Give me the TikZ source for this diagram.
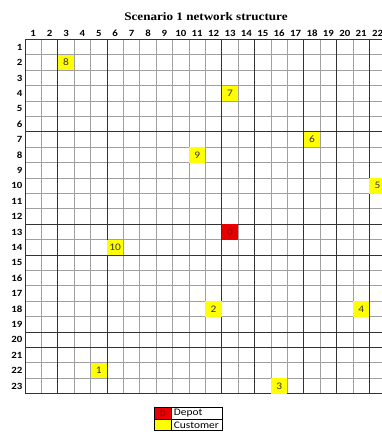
\documentclass[tikz,border=0pt]{standalone}
\usepackage{graphicx}
\usepackage{fontspec}
\setmainfont{Carlito}
\newfontfamily\titlefont{Liberation Serif}
\usepackage{tikz}
\usetikzlibrary{positioning,fit}

\definecolor{cellyellow}{RGB}{255,255,0}
\definecolor{depotred}{RGB}{232,0,0}
\definecolor{gridgray}{RGB}{160,160,160}
\newcommand{\wide}[1]{\scalebox{1.14}[1]{#1}}

\tikzset{
  gridline/.style={gridgray, line width=1pt},
  darkline/.style={black!80, line width=1pt},
  cust/.style={fill=cellyellow, minimum width=16.4pt, minimum height=15.4pt,
    inner sep=0pt, font=\fontsize{10}{11}\selectfont, text=black!80},
  depot/.style={cust, fill=depotred, text=red!55!black},
  colnum/.style={font=\bfseries\fontsize{9.5}{10}\selectfont, inner sep=0pt},
  rownum/.style={colnum, anchor=east},
  key/.style={minimum width=16pt, minimum height=11pt, inner sep=0pt},
  legtext/.style={anchor=west, inner sep=0pt, font=\fontsize{10}{11}\selectfont},
}

\begin{document}
\begin{tikzpicture}[x=1pt,y=-1pt]
\useasboundingbox (0,0) rectangle (382,441);
\clip (0,0) rectangle (382,441);
\fill[white] (0,0) rectangle (382,441);

\node[font=\titlefont\bfseries\fontsize{11.5}{13}\selectfont] (title) at (206,17) {\wide{Scenario 1 network structure}};

\begin{scope}[shift={(25,39.5)}, x=16.4pt, y=-15.4pt]
% grid
\foreach \i in {1,...,22} \draw[gridline] (\i,0) -- (\i,23);
\foreach \j in {1,...,22} \draw[gridline] (0,\j) -- (22,\j);
\foreach \i in {0,2,5,12,14,17,19,21} \draw[darkline] (\i,0) -- (\i,23);
\foreach \j in {0,6,12,14,19,20,23} \draw[darkline] (0,\j) -- (22,\j);
% column and row numbers
\foreach \i in {1,...,22} \node[colnum] (col\i) at (\i-0.5,-0.42) {\wide{\i}};
\foreach \j in {1,...,23} \node[rownum] (row\j) at (-0.15,\j-0.5) {\wide{\j}};
% customers and depot
\foreach \k/\c/\r in {1/5/22, 2/12/18, 3/16/23, 4/21/18, 5/22/10,
  6/18/7, 7/13/4, 8/3/2, 9/11/8, 10/6/14}
  \node[cust] (c\k) at (\c-0.5,\r-0.5) {\wide{\k}};
\node[depot] (c0) at (12.5,12.5) {\wide{0}};
\end{scope}

% legend
\node[key, fill=depotred, text=red!55!black, font=\fontsize{9}{10}\selectfont] (kdep) at (163,413.5) {D};
\node[key, fill=cellyellow, below=0pt of kdep] (kcus) {};
\node[legtext, right=2.5pt of kdep] (tdep) {\wide{Depot}};
\node[legtext, right=2.5pt of kcus] (tcus) {\wide{Customer}};
\coordinate (legse) at (222,430);
\draw[line width=0.7pt] (kdep.north west) rectangle (legse);
\draw[line width=0.7pt] (kdep.south west) -- (kdep.south -| legse);
\draw[line width=0.7pt] (kdep.north east) -- (kcus.south east);
\end{tikzpicture}
\end{document}
